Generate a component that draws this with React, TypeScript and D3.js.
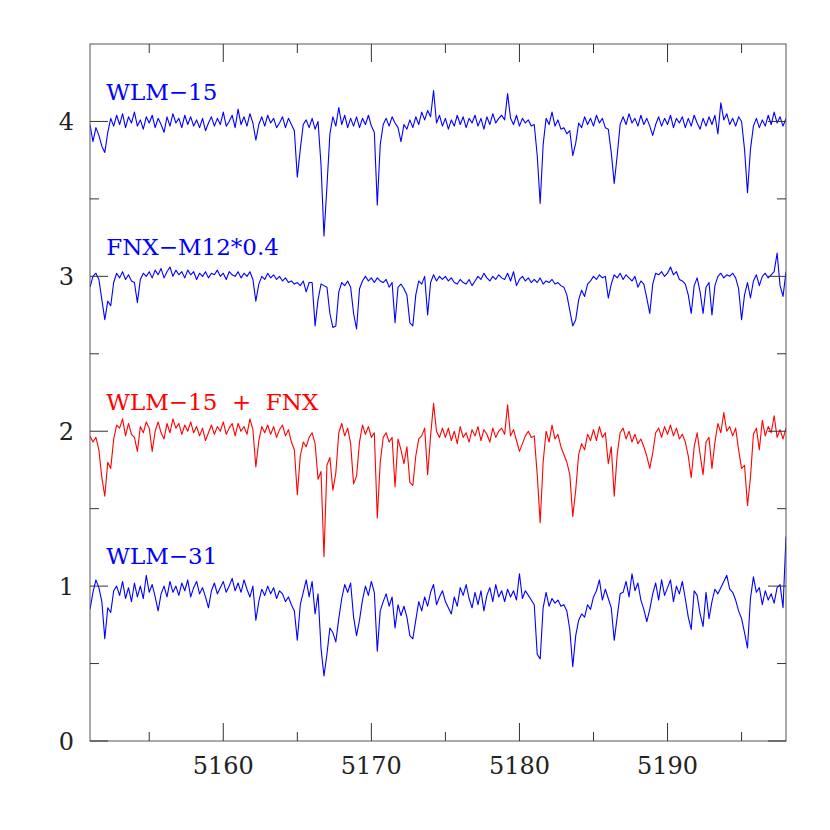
import React, { useRef, useEffect } from 'react';
import * as d3 from 'd3';

// wavelength grid: 5151.0 .. 5198.0, 0.2 A per sample
const lambda0 = 5151.0;
const dLambda = 0.2;

const wlm15 = [
  3.98, 3.87, 3.96, 3.91, 3.84, 3.80, 3.93, 4.02, 3.97, 4.04,
  3.98, 4.05, 3.96, 4.03, 3.99, 4.06, 3.97, 4.01, 3.95, 4.03,
  3.99, 4.04, 3.96, 4.02, 3.98, 3.93, 4.03, 3.97, 4.05, 3.99,
  4.02, 3.96, 4.04, 3.98, 4.03, 3.97, 4.01, 3.96, 4.02, 3.94,
  3.99, 4.03, 3.97, 4.02, 3.98, 4.06, 3.97, 4.00, 4.04, 3.96,
  4.08, 3.98, 4.03, 3.97, 4.05, 3.99, 3.88, 3.98, 4.03, 3.97,
  4.04, 3.99, 4.02, 3.96, 3.99, 4.03, 3.96, 4.02, 3.98, 3.94,
  3.64, 3.82, 3.98, 4.01, 3.96, 4.02, 3.95, 4.00, 3.72, 3.26,
  3.58, 3.92, 4.03, 3.97, 4.09, 3.98, 4.04, 3.96, 4.02, 3.97,
  4.03, 3.96, 4.02, 3.98, 4.04, 3.97, 3.93, 3.46, 3.85, 3.98,
  4.02, 3.97, 4.03, 3.99, 3.96, 3.87, 3.98, 3.95, 4.01, 3.96,
  4.03, 3.98, 4.06, 4.01, 4.07, 4.03, 4.20, 3.99, 4.04, 3.97,
  4.02, 3.95, 4.01, 3.97, 4.04, 3.98, 4.03, 3.96, 4.02, 3.99,
  4.04, 3.97, 4.02, 3.95, 4.03, 3.98, 4.05, 3.99, 4.02, 4.04,
  4.01, 4.18, 4.02, 3.98, 4.04, 3.97, 4.02, 3.99, 4.01, 3.97,
  3.98, 3.78, 3.47, 3.85, 4.02, 3.98, 4.06, 3.97, 4.01, 3.95,
  3.96, 3.92, 3.94, 3.78, 3.86, 3.99, 3.96, 4.03, 3.98, 4.02,
  3.97, 4.04, 3.99, 4.02, 3.96, 3.95, 3.80, 3.60, 3.78, 3.98,
  4.03, 3.98, 4.05, 3.99, 4.02, 3.97, 4.04, 3.98, 4.02, 3.97,
  3.91, 3.98, 4.03, 3.97, 4.02, 3.98, 4.04, 3.96, 4.02, 3.99,
  4.03, 3.96, 4.02, 3.97, 4.04, 3.99, 3.95, 4.02, 3.97, 4.03,
  3.98, 4.04, 3.92, 4.12, 4.01, 4.05, 3.98, 4.02, 3.97, 4.03,
  4.00, 3.82, 3.54, 3.82, 3.97, 4.02, 3.96, 4.01, 3.97, 4.04,
  3.98, 4.06, 3.99, 4.03, 3.97, 4.02,
];

const fnx = [
  2.93, 3.00, 3.02, 2.98, 2.85, 2.72, 2.84, 2.81, 2.96, 3.02,
  2.99, 3.03, 2.98, 3.01, 2.97, 2.96, 2.83, 2.98, 3.02, 3.00,
  3.03, 2.99, 3.04, 3.01, 3.05, 2.99, 3.03, 3.06, 3.00, 3.04,
  3.01, 3.03, 2.99, 3.04, 3.01, 3.03, 2.98, 3.02, 3.00, 3.03,
  2.99, 3.02, 3.01, 3.04, 3.00, 3.02, 2.98, 3.03, 3.01, 3.00,
  3.03, 2.99, 3.02, 3.00, 3.03, 2.98, 2.84, 2.95, 3.00, 2.98,
  3.02, 2.99, 3.01, 2.98, 3.00, 2.97, 2.99, 2.96, 2.97, 2.95,
  2.96, 2.94, 2.97, 2.90, 2.96, 2.96, 2.68, 2.85, 2.95, 2.94,
  2.93, 2.76, 2.67, 2.68, 2.90, 2.96, 2.94, 2.97, 2.93, 2.76,
  2.66, 2.92, 2.97, 3.00, 2.97, 2.99, 2.96, 2.99, 2.97, 2.96,
  2.98, 2.93, 2.96, 2.70, 2.93, 2.95, 2.92, 2.88, 2.70, 2.68,
  2.88, 2.97, 2.95, 3.00, 2.75, 2.96, 3.01, 2.97, 3.00, 2.98,
  3.00, 2.97, 2.99, 2.96, 2.95, 2.98, 2.96, 2.95, 2.98, 2.94,
  2.97, 3.00, 2.98, 3.02, 2.99, 2.97, 3.00, 2.98, 3.01, 2.99,
  2.98, 3.02, 2.97, 3.03, 2.94, 2.98, 3.00, 2.97, 2.99, 2.96,
  2.98, 2.96, 2.99, 2.95, 2.97, 2.96, 2.98, 2.95, 2.96, 2.94,
  2.93, 2.88, 2.78, 2.68, 2.72, 2.85, 2.91, 2.87, 2.95, 2.97,
  3.00, 2.98, 3.01, 2.99, 3.00, 2.86, 2.95, 3.01, 2.99, 3.02,
  2.98, 3.01, 2.99, 2.97, 3.00, 2.93, 2.97, 2.95, 2.86, 2.76,
  2.95, 3.02, 3.01, 3.03, 3.00, 3.02, 3.06, 3.01, 3.03, 2.98,
  2.97, 2.95, 2.88, 2.76, 2.94, 2.99, 2.90, 2.76, 2.93, 2.96,
  2.75, 2.94, 3.00, 3.02, 2.99, 3.01, 3.00, 3.02, 2.99, 2.92,
  2.72, 2.88, 2.96, 2.86, 2.97, 3.01, 2.94, 3.00, 3.02, 2.99,
  3.01, 3.03, 3.15, 2.94, 2.87, 3.03,
];

const combined = [
  1.97, 1.93, 1.96, 1.88, 1.70, 1.58, 1.80, 1.76, 1.95, 2.04,
  2.02, 2.08, 1.97, 2.05, 1.98, 1.96, 1.87, 2.03, 1.99, 2.06,
  2.02, 1.87, 2.00, 2.06, 1.99, 1.95, 2.05, 1.99, 2.08, 2.02,
  2.05, 1.98, 2.04, 2.00, 2.06, 1.99, 2.03, 1.97, 2.02, 1.94,
  1.99, 2.04, 1.98, 2.03, 2.00, 2.06, 1.98, 2.02, 2.05, 1.97,
  2.05, 2.00, 2.03, 1.98, 2.08, 2.01, 1.77, 1.94, 2.03, 1.99,
  2.04, 1.98, 2.03, 1.96, 2.01, 2.04, 1.97, 2.01, 1.93, 1.88,
  1.59, 1.84, 1.93, 1.90, 1.96, 1.99, 1.92, 1.69, 1.74, 1.19,
  1.78, 1.83, 1.62, 1.73, 1.99, 2.05, 1.97, 2.02, 1.92, 1.66,
  1.71, 1.93, 2.04, 1.98, 2.03, 1.96, 1.99, 1.44, 1.80, 1.96,
  1.99, 1.93, 1.96, 1.64, 1.95, 1.88, 1.79, 1.90, 1.67, 1.65,
  1.84, 1.95, 1.97, 2.02, 1.72, 1.97, 2.18, 2.00, 1.96, 2.02,
  1.96, 2.02, 1.94, 2.00, 1.92, 2.03, 1.96, 1.99, 1.93, 2.01,
  1.97, 2.03, 1.94, 2.01, 1.98, 1.93, 2.02, 1.96, 2.00, 2.02,
  1.98, 2.17, 1.97, 2.01, 1.94, 1.87, 1.92, 1.97, 2.00, 1.96,
  1.97, 1.72, 1.41, 1.80, 2.00, 1.93, 2.04, 1.95, 1.98, 1.90,
  1.85, 1.80, 1.72, 1.45, 1.62, 1.85, 1.92, 1.88, 1.98, 1.94,
  2.01, 1.94, 2.03, 1.96, 1.99, 1.79, 1.90, 1.58, 1.85, 1.99,
  2.02, 1.95, 2.00, 1.93, 1.98, 1.92, 1.95, 1.90, 1.84, 1.76,
  1.86, 1.99, 2.02, 1.96, 2.03, 1.98, 2.04, 1.97, 2.02, 1.95,
  1.98, 1.93, 1.84, 1.70, 1.90, 1.99, 1.85, 1.72, 1.93, 1.96,
  1.76, 1.93, 2.05, 1.99, 2.12, 2.00, 2.03, 1.97, 2.02, 1.88,
  1.76, 1.78, 1.52, 1.70, 1.98, 2.02, 1.88, 2.07, 1.97, 2.03,
  1.99, 2.10, 1.96, 2.01, 1.95, 2.02,
];

const wlm31 = [
  0.85, 0.96, 1.04, 0.99, 0.90, 0.66, 0.86, 0.83, 0.97, 1.00,
  0.94, 1.03, 0.92, 0.99, 0.90, 1.02, 0.93, 1.00, 0.92, 1.07,
  0.96, 1.01, 0.93, 0.84, 0.95, 1.00, 0.93, 1.03, 0.96, 1.00,
  0.94, 1.02, 0.97, 1.04, 0.93, 0.99, 1.03, 0.95, 0.99, 0.93,
  0.86, 0.97, 1.02, 0.95, 0.99, 1.03, 0.96, 1.00, 1.05, 0.97,
  1.02, 0.96, 1.04, 0.98, 0.93, 1.00, 0.78, 0.90, 0.98, 0.94,
  1.00, 0.95, 0.99, 0.92, 0.97, 0.95, 0.90, 0.93, 0.88, 0.84,
  0.65, 0.88, 0.96, 1.04, 0.93, 1.03, 0.82, 0.95, 0.60, 0.42,
  0.56, 0.73, 0.70, 0.64, 0.79, 0.92, 1.01, 0.96, 1.02, 0.80,
  0.68, 0.78, 0.91, 1.00, 0.94, 1.03, 0.96, 0.58, 0.84, 0.90,
  0.95, 0.87, 0.93, 0.73, 0.88, 0.81, 0.87, 0.80, 0.68, 0.66,
  0.78, 0.90, 0.84, 0.93, 0.87, 0.96, 1.01, 0.88, 0.93, 0.97,
  0.90, 0.86, 0.82, 0.93, 0.87, 0.99, 0.94, 1.01, 0.92, 0.86,
  0.96, 0.88, 0.97, 0.84, 0.94, 0.99, 0.90, 1.01, 0.93, 0.97,
  0.90, 0.98, 0.93, 0.97, 0.91, 1.08, 0.92, 0.97, 0.94, 0.91,
  0.88, 0.56, 0.53, 0.86, 0.96, 0.87, 0.92, 0.89, 0.91, 0.87,
  0.88, 0.84, 0.72, 0.48, 0.68, 0.78, 0.82, 0.80, 0.88, 0.85,
  0.93, 0.97, 1.04, 0.91, 0.98, 0.92, 0.86, 0.65, 0.80, 0.95,
  0.96, 1.03, 0.93, 1.08, 0.97, 1.02, 0.91, 0.85, 0.77, 0.85,
  0.95, 1.02, 0.91, 1.04, 0.94, 0.99, 1.04, 0.90, 1.00, 0.95,
  1.03, 0.92, 0.80, 0.72, 0.97, 0.94, 0.82, 0.74, 0.96, 0.79,
  0.90, 0.98, 0.95, 0.99, 1.03, 1.07, 0.98, 0.96, 0.91, 0.84,
  0.79, 0.70, 0.60, 0.92, 1.06, 0.96, 0.99, 0.88, 0.97, 0.91,
  0.95, 0.89, 0.99, 1.01, 0.86, 1.32,
];

const seriesValues = [wlm15, fnx, combined, wlm31];
const seriesNames = ['WLM\u221215', 'FNX\u2212M12*0.4', 'WLM\u221215  +  FNX', 'WLM\u221231'];
const seriesColors = ['#0000ff', '#0000ff', '#ff0000', '#0000ff'];
const seriesLevels = [4, 3, 2, 1];

const xMajor = [5160, 5170, 5180, 5190];
const xMinor = [5155, 5165, 5175, 5185, 5195];
const yMajor = [0, 1, 2, 3, 4];
const yMinor = [0.5, 1.5, 2.5, 3.5];

export default function App() {
  const ref = useRef<SVGSVGElement>(null);
  useEffect(() => {
    const svg = d3.select(ref.current);
    svg.selectAll('*').remove();
    const left = 90, right = 786, top = 44, bottom = 741;
    const x = d3.scaleLinear().domain([5151, 5198]).range([left, right]);
    const y = d3.scaleLinear().domain([0, 4.5]).range([bottom, top]);
    const font = '"DejaVu Serif", serif';

    const plot = svg.append('g');
    plot.append('clipPath').attr('id', 'clip')
      .append('rect').attr('x', left).attr('y', top).attr('width', right - left).attr('height', bottom - top);

    const lines = plot.append('g').attr('clip-path', 'url(#clip)');
    seriesValues.forEach((vals, k) => {
      const line = d3.line<number>()
        .x((_, i) => x(lambda0 + dLambda * i))
        .y(d => y(d));
      lines.append('path')
        .attr('d', line(vals))
        .attr('fill', 'none')
        .attr('stroke', seriesColors[k])
        .attr('stroke-width', 1.1)
        .attr('stroke-linejoin', 'round');
      plot.append('text')
        .attr('x', x(5152.1))
        .attr('y', y(seriesLevels[k] + 0.14))
        .attr('fill', seriesColors[k])
        .attr('font-family', font)
        .attr('font-size', 23)
        .style('white-space', 'pre')
        .text(seriesNames[k]);
    });

    const axis = svg.append('g').attr('stroke', '#333').attr('stroke-width', 1);
    axis.append('rect')
      .attr('x', left).attr('y', top).attr('width', right - left).attr('height', bottom - top)
      .attr('fill', 'none').attr('stroke', '#555');

    const tick = (list: number[], len: number) => {
      list.forEach(v => {
        const px = x(v);
        axis.append('line').attr('x1', px).attr('x2', px).attr('y1', bottom).attr('y2', bottom - len);
        axis.append('line').attr('x1', px).attr('x2', px).attr('y1', top).attr('y2', top + len);
      });
    };
    tick(xMajor, 18);
    tick(xMinor, 9);
    const ytick = (list: number[], len: number) => {
      list.forEach(v => {
        const py = y(v);
        axis.append('line').attr('x1', left).attr('x2', left + len).attr('y1', py).attr('y2', py);
        axis.append('line').attr('x1', right).attr('x2', right - len).attr('y1', py).attr('y2', py);
      });
    };
    ytick(yMajor, 18);
    ytick(yMinor, 9);

    svg.append('g').selectAll('text').data(xMajor).join('text')
      .attr('x', d => x(d))
      .attr('y', bottom + 33)
      .attr('text-anchor', 'middle')
      .attr('font-family', font)
      .attr('font-size', 24)
      .attr('fill', '#222')
      .text(d => String(d));

    svg.append('g').selectAll('text').data(yMajor).join('text')
      .attr('x', left - 16)
      .attr('y', d => y(d) + 9)
      .attr('text-anchor', 'end')
      .attr('font-family', font)
      .attr('font-size', 24)
      .attr('fill', '#222')
      .text(d => String(d));
  }, []);
  return (
    <svg
      ref={ref}
      width={830}
      height={830}
      style={{ position: 'absolute', left: 0, top: 0, background: '#fff' }}
    />
  );
}
